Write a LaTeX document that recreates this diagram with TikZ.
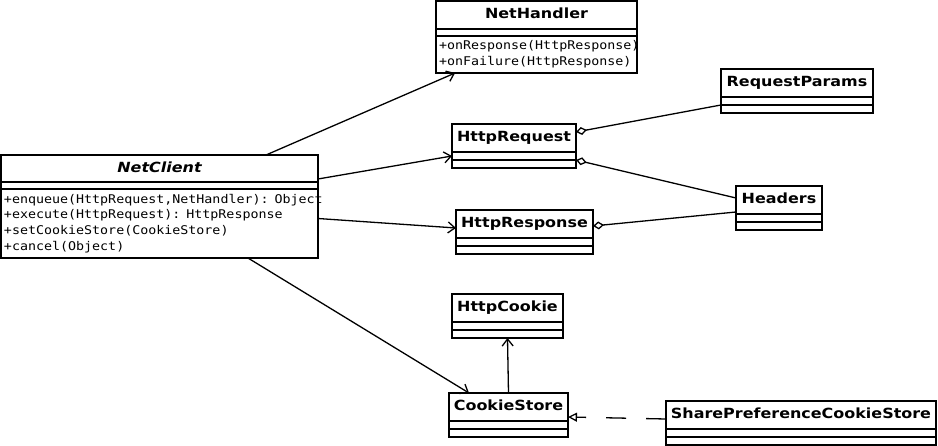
\documentclass[tikz,border=0pt]{standalone}
\usepackage{fontspec}
\usepackage{tikz}
\usetikzlibrary{positioning, arrows.meta, calc}
\newfontfamily\umlsans[FakeStretch=1.14]{DejaVu Sans}
\newfontfamily\umlmono[FakeStretch=1.11]{DejaVu Sans Mono}

\begin{document}
\begin{tikzpicture}[x=1pt, y=-1pt,
    cls/.style={draw, line width=1.5pt, inner sep=0pt, outer sep=0pt,
                anchor=north west, minimum height=28pt,
                text height=10pt, text depth=2pt,
                font=\umlsans\bfseries\fontsize{14}{16}\selectfont},
    cmp/.style={draw, line width=1.5pt, inner sep=0pt, outer sep=0pt,
                minimum height=8pt},
    ops/.style={draw, line width=1.5pt, inner xsep=3pt, inner ysep=0pt,
                outer sep=0pt, align=left,
                font=\umlmono\fontsize{12}{15.7}\selectfont},
    assoc/.style={-{Straight Barb[length=7pt, width=11pt]}, line width=1.3pt},
    agg/.style={-{Diamond[open, length=11pt, width=8pt]}, line width=1.3pt},
    real/.style={-{Triangle[open, length=9pt, width=9pt]}, line width=1.3pt,
                 dash pattern=on 20pt off 20pt}
  ]
  \useasboundingbox (0,0) rectangle (938,446);

  % classes with operations
  \node[cls, minimum width=201pt] (nh) at (436,1) {NetHandler};
  \node[cmp, minimum width=201pt, minimum height=7pt, below=0pt of nh] (nh-a) {};
  \node[ops, minimum width=201pt, minimum height=37pt, text width=195pt,
        below=0pt of nh-a] (nh-m)
        {+onResponse(HttpResponse)\\+onFailure(HttpResponse)};

  \node[cls, minimum width=317pt, minimum height=27pt,
        font=\umlsans\bfseries\itshape\fontsize{14}{16}\selectfont] (nc) at (1,155) {NetClient};
  \node[cmp, minimum width=317pt, minimum height=7pt, below=0pt of nc] (nc-a) {};
  \node[ops, minimum width=317pt, minimum height=69pt, text width=311pt,
        below=0pt of nc-a] (nc-m)
        {\mbox{+enqueue(HttpRequest,NetHandler): Object}\\
         \mbox{+execute(HttpRequest): HttpResponse}\\
         +setCookieStore(CookieStore)\\
         +cancel(Object)};

  % plain classes
  \foreach \n/\x/\y/\w/\t in {req/452/124/124/HttpRequest,
      resp/456/210/137/HttpResponse, par/721/69/152/RequestParams,
      hdr/736/186/86/Headers, ck/452/294/111/HttpCookie,
      cs/449/393/119/CookieStore, spcs/666/401/270/SharePreferenceCookieStore}{
    \node[cls, minimum width=\w pt] (\n) at (\x,\y) {\t};
    \node[cmp, minimum width=\w pt, below=0pt of \n] (\n-a) {};
    \node[cmp, minimum width=\w pt, below=0pt of \n-a] (\n-b) {};
  }

  % associations
  \draw[assoc] ($(nc.north west)!0.836!(nc.north east)$)
            -- ($(nh-m.south west)!0.095!(nh-m.south east)$);
  \draw[assoc] ([yshift=3pt]nc.south east) -- (req-a.west);
  \draw[assoc] ([yshift=5pt]nc-m.east) -- ([yshift=-4pt]resp.west);
  \draw[assoc] ($(nc-m.south west)!0.779!(nc-m.south east)$)
            -- ($(cs.north west)!0.168!(cs.north east)$);
  \draw[assoc] (cs.north) -- (ck-b.south);

  % aggregations
  \draw[agg] (par-a.south west) -- ([yshift=6pt]req.east);
  \draw[agg] ([yshift=2pt]hdr.west) -- (req-b.north east);
  \draw[agg] ([yshift=2pt]hdr.south west) -- ([yshift=-2pt]resp.east);

  % realization
  \draw[real] ([yshift=-4pt]spcs.west) -- ([yshift=-10pt]cs.east);
\end{tikzpicture}
\end{document}
